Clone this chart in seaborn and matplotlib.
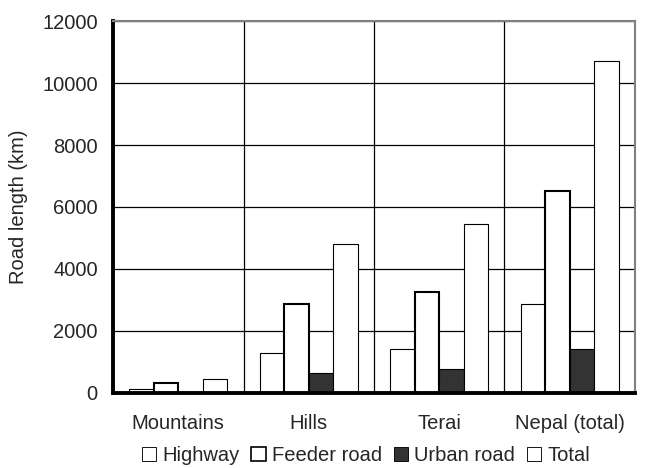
import pandas as pd
import matplotlib.pyplot as plt
import seaborn as sns
from matplotlib.patches import Patch

# Road length by region and road type (km)
regions = ['Mountains', 'Hills', 'Terai', 'Nepal (total)']
road_types = ['Highway', 'Feeder road', 'Urban road', 'Total']
highway = [120, 1300, 1420, 2860]
feeder_road = [330, 2860, 3250, 6500]
urban_road = [0, 655, 785, 1430]
total = [440, 4800, 5450, 10700]
y_ticks = [0, 2000, 4000, 6000, 8000, 10000, 12000]

colors = {'Highway': 'white', 'Feeder road': 'white', 'Urban road': '#333333', 'Total': 'white'}
edge_widths = {'Highway': 0.8, 'Feeder road': 1.5, 'Urban road': 0.8, 'Total': 0.8}

rows = []
for name, vals in zip(road_types, [highway, feeder_road, urban_road, total]):
    for region, v in zip(regions, vals):
        rows.append({'Region': region, 'Road type': name, 'Length': v})
df = pd.DataFrame(rows)

sns.set_style('white')
plt.rcParams['font.family'] = ['Liberation Sans', 'DejaVu Sans']

fig = plt.figure(figsize=(6.51, 4.68), dpi=100)
ax = fig.add_axes([0.1736, 0.1603, 0.8018, 0.7948])

sns.barplot(data=df, x='Region', y='Length', hue='Road type', hue_order=road_types,
            palette=colors, width=0.75, edgecolor='black', linewidth=0.8,
            legend=False, ax=ax)

for cont, name in zip(ax.containers, road_types):
    for bar in cont:
        bar.set_linewidth(edge_widths[name])
        bar.set_edgecolor('black')

ax.set_axisbelow(True)
ax.set_xlim(-0.5, len(regions) - 0.5)
ax.set_ylim(0, 12000)
ax.set_yticks(y_ticks)
ax.set_yticklabels([str(t) for t in y_ticks], fontsize=14.5)
ax.set_xticks(range(len(regions)))
ax.set_xticklabels(regions, fontsize=14.5)
ax.set_xticks([i - 0.5 for i in range(len(regions) + 1)], minor=True)

ax.tick_params(axis='x', which='major', length=0, pad=15)
ax.tick_params(axis='x', which='minor', length=5, width=2.5, color='black', direction='out')
ax.tick_params(axis='y', which='major', length=5, width=2.5, color='black', direction='out', pad=6)

ax.grid(axis='y', which='major', color='black', linewidth=0.9)
ax.grid(axis='x', which='minor', color='black', linewidth=0.9)
ax.grid(axis='x', which='major', visible=False)

for side in ['left', 'bottom']:
    ax.spines[side].set_color('black')
    ax.spines[side].set_linewidth(2.8)
for side in ['top', 'right']:
    ax.spines[side].set_color('#808080')
    ax.spines[side].set_linewidth(1.5)

ax.set_xlabel('')
ax.set_ylabel('Road length (km)', fontsize=14.5, labelpad=10)

handles = [Patch(facecolor=colors[n], edgecolor='black', linewidth=edge_widths[n] * 0.8, label=n)
           for n in road_types]
fig.legend(handles=handles, loc='center', bbox_to_anchor=(0.562, 0.026), ncol=4,
           frameon=False, fontsize=14.5, handlelength=0.7, handleheight=0.7,
           handletextpad=0.3, columnspacing=0.6, borderaxespad=0)

plt.savefig('out.png', dpi=100)
